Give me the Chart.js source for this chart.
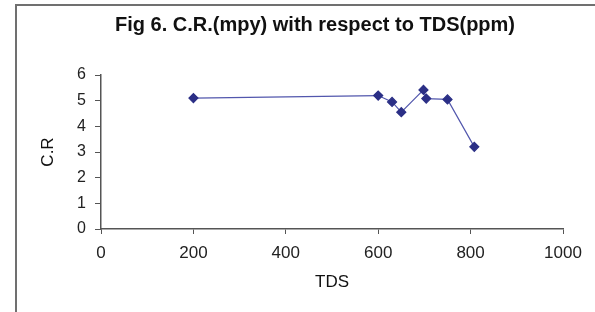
<!DOCTYPE html>
<html>
<head>
<meta charset="utf-8">
<script src="https://cdn.jsdelivr.net/npm/chart.js@4.4.1/dist/chart.umd.min.js"></script>
<style>
  html, body { margin: 0; padding: 0; background: #fff; }
  #wrap { position: relative; width: 595px; height: 312px; overflow: hidden; }
  #frame { position: absolute; left: 15px; top: 4px; width: 700px; height: 400px;
           border-top: 2px solid #707070; border-left: 2px solid #707070; }
  canvas { position: absolute; left: 0; top: 0; }
</style>
</head>
<body>
<div id="wrap">
  <div id="frame"></div>
  <canvas id="c" width="595" height="312"></canvas>
</div>
<script>
const chartTitle = "Fig 6. C.R.(mpy) with respect to TDS(ppm)";
const xAxisTitle = "TDS";
const yAxisTitle = "C.R";
const tdsValues = [200, 600, 630, 650, 698, 704, 750, 808];
const crValues  = [5.1, 5.2, 4.95, 4.55, 5.42, 5.08, 5.05, 3.2];
const xTicks = [0, 200, 400, 600, 800, 1000];
const yTicks = [0, 1, 2, 3, 4, 5, 6];

const points = tdsValues.map((x, i) => ({ x: x, y: crValues[i] }));
const font = "'Liberation Sans', Arial, sans-serif";

new Chart(document.getElementById('c'), {
  type: 'scatter',
  data: {
    datasets: [{
      data: points,
      showLine: true,
      borderColor: '#5257ad',
      borderWidth: 1.2,
      backgroundColor: '#2b2f86',
      pointStyle: 'rectRot',
      pointRadius: 4.5,
      pointBorderColor: '#2b2f86',
      pointBackgroundColor: '#2b2f86',
      tension: 0
    }]
  },
  options: {
    responsive: false,
    animation: false,
    layout: { padding: { left: 67, right: 32, top: 0, bottom: 0 } },
    plugins: {
      legend: { display: false },
      tooltip: { enabled: false },
      title: {
        display: true,
        text: chartTitle,
        color: '#111',
        font: { family: font, size: 20, weight: 'bold' },
        padding: { top: 13, bottom: 38 }
      }
    },
    scales: {
      x: {
        type: 'linear',
        min: xTicks[0],
        max: xTicks[xTicks.length - 1],
        afterBuildTicks: s => { s.ticks = xTicks.map(v => ({ value: v })); },
        afterFit: s => { s.height = 83; },
        grid: { display: true, drawOnChartArea: false, drawTicks: true, tickLength: 5, color: '#555' },
        border: { display: true, color: '#555', width: 1.5 },
        ticks: { color: '#222', font: { family: font, size: 17 }, padding: 9, maxRotation: 0,
                 callback: v => String(v) },
        title: {
          display: true, text: xAxisTitle, color: '#111',
          font: { family: font, size: 17 }, padding: { top: 4, bottom: 19 }
        }
      },
      y: {
        type: 'linear',
        min: yTicks[0],
        max: yTicks[yTicks.length - 1],
        afterBuildTicks: s => { s.ticks = yTicks.map(v => ({ value: v })); },
        afterFit: s => { s.width = 34; },
        grid: { display: true, drawOnChartArea: false, drawTicks: true, tickLength: 6, color: '#555' },
        border: { display: true, color: '#555', width: 1.5 },
        ticks: { color: '#222', font: { family: font, size: 16 }, padding: 9,
                 callback: v => String(v) },
        title: {
          display: true, text: yAxisTitle, color: '#111',
          font: { family: font, size: 17 }, padding: { top: -29, bottom: 0 }
        }
      }
    }
  }
});
</script>
</body>
</html>
